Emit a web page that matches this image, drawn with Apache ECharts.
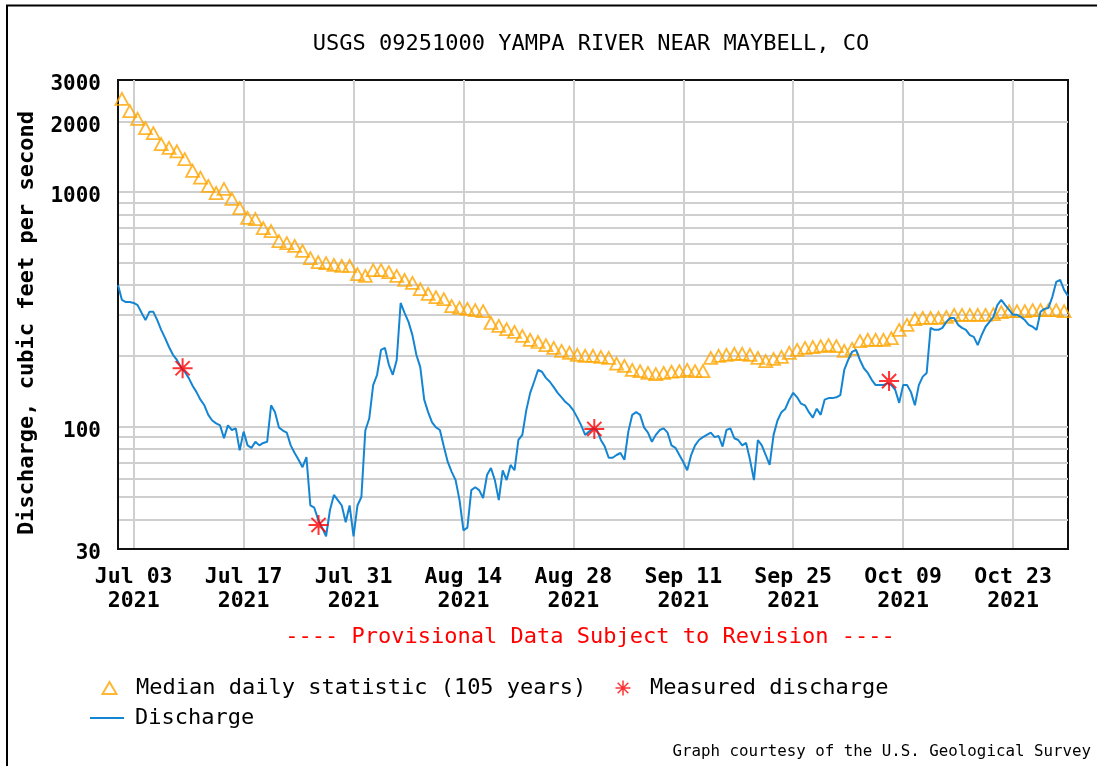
<!DOCTYPE html>
<html>
<head>
<meta charset="utf-8">
<script src="https://cdn.jsdelivr.net/npm/echarts@6/dist/echarts.min.js"></script>
<style>
html,body{margin:0;padding:0;background:#fff;}
#chart{width:1097px;height:766px;}
</style>
</head>
<body>
<div id="chart"></div>
<script>
// ---- data ----
const titleText = 'USGS 09251000 YAMPA RIVER NEAR MAYBELL, CO';
const yAxisTitle = 'Discharge, cubic feet per second';
const xTickDates = ['2021-07-03','2021-07-17','2021-07-31','2021-08-14','2021-08-28','2021-09-11','2021-09-25','2021-10-09','2021-10-23'];
const yTickLabels = [30, 100, 1000, 2000, 3000];
const yGridValues = [40,50,60,70,80,90,100,200,300,400,500,600,700,800,900,1000,2000];
const xStart = '2021-07-01 00:00';
const xEnd = '2021-10-30 00:00';

// Median daily statistic, one value per day at noon, starting Jul 1
const medianStart = '2021-07-01 12:00';
const medianValues = [
 2490,2210,2050,1870,1780,1600,1540,1490,1380,1230,
 1150,1060,989,1030,933,853,774,766,701,681,
 617,605,588,560,522,502,497,488,483,483,
 446,438,464,464,455,438,421,409,385,367,
 356,349,326,320,317,313,310,276,268,260,
 253,243,234,229,222,216,210,206,202,200,
 200,198,196,185,181,174,172,169,167,169,
 171,172,174,172,172,196,200,202,204,204,
 202,196,190,194,198,206,212,216,218,220,
 222,220,210,214,231,234,234,234,238,258,
 271,287,290,290,290,293,299,299,299,299,
 299,301,307,310,310,310,313,313,313,313,
 310
];

// Discharge, sampled every 12 hours starting Jul 1 00:00
const dischargeStart = '2021-07-01 00:00';
const dischargeStepHours = 12;
const dischargeValues = [
 401,346,339,339,336,329,305,284,308,308,
 284,258,238,218,202,192,179,171,161,149,
 140,130,123,112,106,103,101,89,101,96.5,
 98,79,95,83,81,86,83,85,86,123,
 115,99,96,94,83,77,72,67,74,46,
 45,40,37,34,44,51,48.5,46,39,46,
 34,46,50,96,108,150,166,212,216,183,
 166,192,336,305,279,245,202,179,130,115,
 104,99,96.5,82,70.5,64,59,48.5,36,37,
 53.5,55,53.5,49.5,62,66.5,59,48.5,65,59,
 68.5,65,87.5,92,117,139,155,174,171,161,
 155,147,139,133,127,123,117,109,101,92,
 95,98,96.5,87.5,82,73.5,73.5,75.5,77,72,
 95,112,115,112,99,94,86,92,96.5,98,
 94,83,81,75.5,70.5,65,75.5,83,87.5,90,
 92,94,90,91,82,96.5,98,89,87.5,83,
 85,72,59,87.5,83,75.5,68.5,92,106,115,
 119,130,139,133,125,123,115,109,119,112,
 130,132,132,133,136,174,192,208,212,192,
 177,169,158,150,150,150,153,150,143,126,
 150,150,140,123,150,163,169,263,258,258,
 263,279,290,290,271,263,258,245,241,222,
 245,266,279,293,329,346,329,314,299,299,
 293,284,271,266,258,308,317,320,356,413,
 421,382,360
];

// Measured discharge (field measurements)
const measuredTimes = ['2021-07-09 05:30','2021-07-26 13:00','2021-08-30 16:00','2021-10-07 05:00'];
const measuredValues = [177, 38, 97.5, 156];

const seriesNames = ['Median daily statistic (105 years)', 'Measured discharge', 'Discharge'];
const provisionalText = '---- Provisional Data Subject to Revision ----';
const courtesyText = 'Graph courtesy of the U.S. Geological Survey';

// ---- helpers ----
function parseLocal(s) {
  const [d, t] = s.split(' ');
  const [y, m, dd] = d.split('-').map(Number);
  let hh = 0, mm = 0;
  if (t) { [hh, mm] = t.split(':').map(Number); }
  return new Date(y, m - 1, dd, hh, mm).getTime();
}
const MONTHS = ['Jan','Feb','Mar','Apr','May','Jun','Jul','Aug','Sep','Oct','Nov','Dec'];
function fmtDate(v) {
  const d = new Date(v);
  return MONTHS[d.getMonth()] + ' ' + String(d.getDate()).padStart(2, '0') + '\n' + d.getFullYear();
}

const DAY = 24 * 3600 * 1000;
const medianData = medianValues.map((v, i) => [parseLocal(medianStart) + i * DAY, v]);
const dischargeData = dischargeValues.map((v, i) => [parseLocal(dischargeStart) + i * dischargeStepHours * 3600 * 1000, v]);
const measuredData = measuredTimes.map((t, i) => [parseLocal(t), measuredValues[i]]);
const xTicks = xTickDates.map(d => parseLocal(d));

const MONO = '"DejaVu Sans Mono", "Liberation Mono", monospace';
const ORANGE = '#FFA500';
const BLUE = '#1485d2';
const RED = '#ff0000';
const STAR = 'path://M0 9 H20 V11 H0 Z M9 0 H11 V20 H9 Z M2.2 3.6 L3.6 2.2 L17.8 16.4 L16.4 17.8 Z M16.4 2.2 L17.8 3.6 L3.6 17.8 L2.2 16.4 Z';
const LINE_ICON = 'path://M0 0 H34 V2 H0 Z';
const legendText = {fontFamily: MONO, fontSize: 22, color: '#000', lineHeight: 24};

const chart = echarts.init(document.getElementById('chart'), null, {renderer: 'canvas'});
chart.setOption({
  animation: false,
  backgroundColor: '#fff',
  grid: {
    left: 118, right: 29, top: 80, bottom: 217,
    show: true, borderColor: '#111', borderWidth: 2, backgroundColor: 'transparent'
  },
  xAxis: {
    type: 'value',
    min: parseLocal(xStart),
    max: parseLocal(xEnd),
    axisLine: {show: true, lineStyle: {color: '#111', width: 2}},
    axisTick: {show: false, customValues: xTicks},
    splitLine: {show: true, lineStyle: {color: '#cfcfcf', width: 2}},
    axisLabel: {
      customValues: xTicks,
      formatter: fmtDate,
      color: '#000',
      fontFamily: MONO,
      fontWeight: 'bold',
      fontSize: 21.5,
      lineHeight: 24,
      margin: 16
    }
  },
  yAxis: {
    type: 'log',
    logBase: 10,
    min: 30,
    max: 3000,
    axisLine: {show: true, lineStyle: {color: '#111', width: 2}},
    axisTick: {show: false, customValues: yGridValues},
    splitLine: {show: true, lineStyle: {color: '#cfcfcf', width: 2}},
    axisLabel: {
      customValues: yTickLabels,
      formatter: v => String(Math.round(v)),
      color: '#000',
      fontFamily: MONO,
      fontWeight: 'bold',
      fontSize: 21,
      margin: 17,
      verticalAlign: 'top',
      lineHeight: 10
    }
  },
  legend: [
    {
      left: 101.5, top: 676, padding: 0,
      itemWidth: 14, itemHeight: 12,
      selectedMode: false,
      textStyle: Object.assign({padding: [0, 0, 0, 14.5]}, legendText),
      data: [{name: seriesNames[0], icon: 'triangle', itemStyle: {color: 'rgba(0,0,0,0)', borderColor: ORANGE, borderWidth: 2}}]
    },
    {
      left: 615.5, top: 676, padding: 0,
      itemWidth: 15, itemHeight: 15,
      selectedMode: false,
      textStyle: Object.assign({padding: [0, 0, 0, 14.5]}, legendText),
      data: [{name: seriesNames[1], icon: STAR, itemStyle: {color: RED, borderWidth: 0}}]
    },
    {
      left: 90, top: 706, padding: 0,
      itemWidth: 34, itemHeight: 13,
      selectedMode: false,
      textStyle: Object.assign({padding: [0, 0, 0, 6]}, legendText),
      data: [{name: seriesNames[2], icon: LINE_ICON, itemStyle: {color: BLUE, borderWidth: 0}}]
    }
  ],
  series: [
    {
      name: seriesNames[0],
      type: 'scatter',
      data: medianData,
      symbol: 'triangle',
      symbolSize: [13, 12],
      itemStyle: {color: 'rgba(0,0,0,0)', borderColor: ORANGE, borderWidth: 1.8},
      z: 2,
      silent: true
    },
    {
      name: seriesNames[2],
      type: 'line',
      data: dischargeData,
      showSymbol: false,
      symbol: 'none',
      color: BLUE,
      lineStyle: {color: BLUE, width: 2},
      z: 3,
      silent: true
    },
    {
      name: seriesNames[1],
      type: 'scatter',
      data: measuredData,
      symbol: STAR,
      symbolSize: 20,
      itemStyle: {color: RED},
      z: 4,
      silent: true
    }
  ],
  graphic: [
    {type: 'line', shape: {x1: 6, y1: 5.5, x2: 1097, y2: 5.5}, style: {stroke: '#000', lineWidth: 2}},
    {type: 'line', shape: {x1: 7, y1: 5, x2: 7, y2: 766}, style: {stroke: '#000', lineWidth: 2}},
    {type: 'text', x: 591, y: 44, style: {text: titleText, font: '22px ' + MONO, fill: '#000', align: 'center', verticalAlign: 'middle'}},
    {type: 'text', x: 27, y: 323, rotation: Math.PI / 2, style: {text: yAxisTitle, font: 'bold 22px ' + MONO, fill: '#000', align: 'center', verticalAlign: 'middle'}},
    {type: 'text', x: 590, y: 637, style: {text: provisionalText, font: '22px ' + MONO, fill: RED, align: 'center', verticalAlign: 'middle'}},
    {type: 'text', x: 1091, y: 752, style: {text: courtesyText, font: '15.8px ' + MONO, fill: '#000', align: 'right', verticalAlign: 'middle'}}
  ]
});
</script>
</body>
</html>
